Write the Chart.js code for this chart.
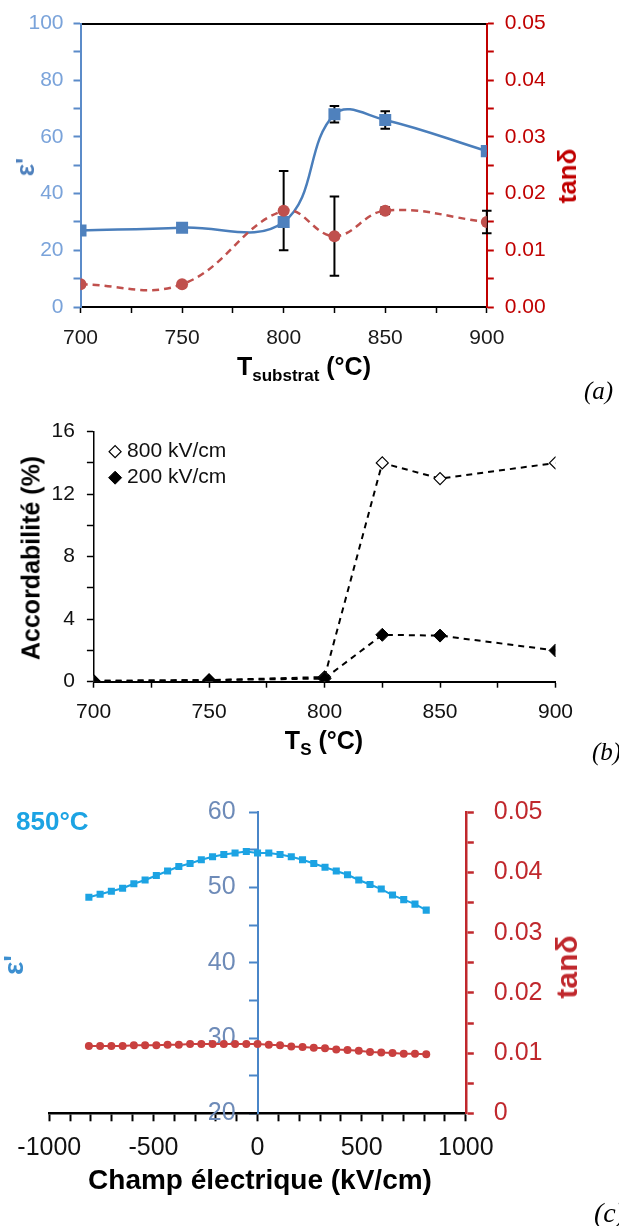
<!DOCTYPE html>
<html>
<head>
<meta charset="utf-8">
<script src="https://cdn.jsdelivr.net/npm/chart.js@4/dist/chart.umd.min.js"></script>
<style>
html, body { margin: 0; padding: 0; background: #fff; overflow: hidden; }
#page { position: relative; width: 619px; height: 1226px; overflow: hidden; font-family: 'Liberation Sans', Arial, sans-serif; }
canvas { position: absolute; left: 0; }
.lbl { position: absolute; white-space: nowrap; font-weight: bold; line-height: 1; }
.rot { transform: translate(-50%, -50%) rotate(-90deg); }
.ctr { transform: translate(-50%, -50%); }
.tag { position: absolute; white-space: nowrap; font-family: 'Liberation Serif', serif; font-style: italic; line-height: 1; }
sub { font-size: 68%; vertical-align: -0.35em; }
</style>
</head>
<body>
<div id="page">
    <canvas id="chartA" width="619" height="390" style="top:0px"></canvas>
    <canvas id="chartB" width="619" height="380" style="top:390px"></canvas>
    <canvas id="chartC" width="619" height="456" style="top:770px"></canvas>

    <!-- (a) -->
    <div class="lbl rot" style="left:25px; top:167px; font-size:26px; color:#4F81BD">ε'</div>
    <div class="lbl rot" style="left:567px; top:176px; font-size:26px; color:#C00000">tanδ</div>
    <div class="lbl ctr" style="left:304px; top:369px; font-size:25px; color:#000">T<sub>substrat</sub> (°C)</div>
    <div class="tag" style="left:584px; top:378px; font-size:25px">(a)</div>

    <!-- (b) -->
    <div class="lbl rot" style="left:31px; top:558px; font-size:25px; color:#000">Accordabilité (%)</div>
    <div class="lbl ctr" style="left:324px; top:743px; font-size:25px; color:#000">T<sub>S</sub> (°C)</div>
    <div class="tag" style="left:592px; top:739px; font-size:25px">(b)</div>

    <!-- (c) -->
    <div class="lbl" style="left:16px; top:808px; font-size:26px; color:#1CA3E3">850°C</div>
    <div class="lbl rot" style="left:14px; top:965px; font-size:28px; color:#3C8FD0">ε'</div>
    <div class="lbl rot" style="left:567px; top:967px; font-size:30px; color:#C0282D">tanδ</div>
    <div class="lbl ctr" style="left:260px; top:1180px; font-size:28px; color:#000">Champ électrique (kV/cm)</div>
    <div class="tag" style="left:594px; top:1199px; font-size:28px">(c)</div>
</div>

<script>
//// Data

// (a) dielectric constant and losses vs substrate temperature
const temps = [700, 750, 800, 825, 850, 900];
const epsA = [27, 28, 30, 68, 66, 55];
const epsErrA = [0, 0, 0, 2.9, 3.1, 0];
const tanA = [0.004, 0.004, 0.017, 0.0125, 0.017, 0.015];
const tanErrA = [0, 0, 0.007, 0.007, 0.0006, 0.002];

// (b) tunability
const tuneLabels = ['800 kV/cm', '200 kV/cm'];
const tune800 = [0.05, 0.1, 0.3, 14, 13, 14];
const tune200 = [0.05, 0.1, 0.2, 3, 2.95, 2];

// (c) eps' and tan(delta) vs electric field at 850°C
const fieldC = [-810, -756, -702, -648, -594, -540, -486, -432, -378, -324, -270, -216, -162, -108, -54,
    0, 54, 108, 162, 216, 270, 324, 378, 432, 486, 540, 594, 648, 702, 756, 810];
const epsC = [48.7, 49.1, 49.5, 49.9, 50.5, 51.0, 51.6, 52.2, 52.8, 53.2, 53.7, 54.1, 54.4, 54.6, 54.8,
    54.6, 54.6, 54.4, 54.1, 53.7, 53.2, 52.7, 52.2, 51.7, 51.0, 50.4, 49.8, 49.0, 48.4, 47.8, 47.0];
const tanC = [0.0112, 0.0112, 0.0112, 0.0112, 0.0113, 0.0113, 0.0113, 0.0114, 0.0114, 0.0115, 0.0115, 0.0115, 0.0115, 0.0115, 0.0115,
    0.0115, 0.0114, 0.0113, 0.0111, 0.0110, 0.0109, 0.0108, 0.0106, 0.0105, 0.0104, 0.0102, 0.0101, 0.0100, 0.0099, 0.0099, 0.0098];

//// Helpers

Chart.defaults.font.family = "'Liberation Sans', Arial, sans-serif";

const fixWidth = w => scale => { scale.width = w; };
const fixHeight = h => scale => { scale.height = h; };
const toPoints = (xs, ys) => xs.map((x, i) => ({x: x, y: ys[i]}));
const everyOther = step => v => (Math.round(v * 1000) % Math.round(step * 1000) === 0 ? v : '');
const lossLabel = zeroText => v => {
    const k = Math.round(v * 1000);
    if (k % 10 !== 0) return '';
    return k === 0 && zeroText ? zeroText : (k / 1000).toFixed(2);
};

// black error bars, drawn under the markers
const errorBars = {
    id: 'errorBars',
    beforeDatasetsDraw(chart, args, opts) {
        const ctx = chart.ctx;
        chart.data.datasets.forEach((ds, i) => {
            if (!ds.errors) return;
            const meta = chart.getDatasetMeta(i);
            const yScale = chart.scales[meta.yAxisID];
            ctx.save();
            ctx.strokeStyle = opts.color;
            ctx.lineWidth = opts.width;
            meta.data.forEach((pt, j) => {
                const err = ds.errors[j];
                if (!err) return;
                const v = ds.data[j].y;
                const top = yScale.getPixelForValue(v + err);
                const bot = yScale.getPixelForValue(v - err);
                ctx.beginPath();
                ctx.moveTo(pt.x, top);
                ctx.lineTo(pt.x, bot);
                ctx.moveTo(pt.x - opts.cap, top);
                ctx.lineTo(pt.x + opts.cap, top);
                ctx.moveTo(pt.x - opts.cap, bot);
                ctx.lineTo(pt.x + opts.cap, bot);
                ctx.stroke();
            });
            ctx.restore();
        });
    }
};

// legend in the upper left corner of the plot
const insideLegend = {
    id: 'insideLegend',
    afterDatasetsDraw(chart, args, opts) {
        if (!opts.display) return;
        const ctx = chart.ctx;
        const {left, top} = chart.chartArea;
        ctx.save();
        chart.data.datasets.forEach((ds, i) => {
            const x = left + opts.offsetX;
            const y = top + opts.offsetY + i * opts.rowHeight;
            ctx.fillStyle = ds.pointBackgroundColor;
            ctx.strokeStyle = ds.pointBorderColor;
            ctx.lineWidth = ds.pointBorderWidth;
            Chart.helpers.drawPoint(ctx, {
                pointStyle: ds.pointStyle,
                radius: ds.pointRadius,
                borderWidth: ds.pointBorderWidth,
                rotation: 0
            }, x, y);
            ctx.fillStyle = opts.color;
            ctx.font = opts.font;
            ctx.textBaseline = 'middle';
            ctx.textAlign = 'left';
            ctx.fillText(ds.label, x + opts.textGap, y);
        });
        ctx.restore();
    }
};

// an axis placed at x = 0 puts its labels on the line: move them out past the ticks
const centerAxisLabels = {
    id: 'centerAxisLabels',
    beforeDraw(chart, args, opts) {
        const scale = chart.scales[opts.axis];
        if (!scale) return;
        const items = scale.getLabelItems(chart.chartArea);
        if (items._moved) return;
        const shift = scale.options.grid.tickLength + scale.options.ticks.padding;
        items.forEach(item => { item.options.translation[0] -= shift; });
        items._moved = true;
    }
};

const baseOptions = {
    responsive: false,
    animation: false,
    devicePixelRatio: 1,
    plugins: {legend: {display: false}, tooltip: {enabled: false}}
};

//// Charts

window.onload = () => {
    // (a)
    new Chart(document.getElementById('chartA'), {
        type: 'line',
        data: {
            datasets: [
                {
                    label: 'tanδ',
                    data: toPoints(temps, tanA),
                    errors: tanErrA,
                    yAxisID: 'y2',
                    borderColor: '#C0504D',
                    backgroundColor: '#C0504D',
                    borderWidth: 2.5,
                    borderDash: [7, 5],
                    tension: 0.4,
                    pointStyle: 'circle',
                    pointRadius: 6,
                    pointBorderWidth: 0,
                    order: 1
                },
                {
                    label: "ε'",
                    data: toPoints(temps, epsA),
                    errors: epsErrA,
                    yAxisID: 'y',
                    borderColor: '#4A7EBB',
                    backgroundColor: '#4F81BD',
                    borderWidth: 2.5,
                    tension: 0.4,
                    pointStyle: 'rect',
                    pointRadius: 8.5,
                    pointBorderWidth: 0,
                    order: 2
                }
            ]
        },
        options: {
            ...baseOptions,
            layout: {padding: {top: 21.7, left: 0, right: 0, bottom: 0}},
            plugins: {...baseOptions.plugins, errorBars: {color: '#000', width: 2, cap: 4.75}},
            scales: {
                x: {
                    type: 'linear', position: 'bottom', min: 700, max: 900,
                    afterFit: fixHeight(83),
                    ticks: {stepSize: 25, autoSkip: false, maxRotation: 0, callback: everyOther(50),
                        font: {size: 21}, color: '#1a1a1a', padding: 13},
                    grid: {drawOnChartArea: false, tickLength: 6, tickColor: '#000', tickWidth: 1.5},
                    border: {color: '#000', width: 2}
                },
                xTop: {
                    type: 'linear', position: 'top', min: 700, max: 900,
                    afterFit: fixHeight(0),
                    ticks: {display: false},
                    grid: {display: false, drawTicks: false},
                    border: {color: '#000', width: 2}
                },
                y: {
                    type: 'linear', position: 'left', min: 0, max: 100,
                    afterFit: fixWidth(80.5),
                    ticks: {stepSize: 10, autoSkip: false, callback: everyOther(20),
                        font: {size: 21}, color: '#7AA3DA', padding: 10},
                    grid: {drawOnChartArea: false, tickLength: 7, tickColor: '#5B8BC9', tickWidth: 2},
                    border: {color: '#5B8BC9', width: 2}
                },
                y2: {
                    type: 'linear', position: 'right', min: 0, max: 0.05,
                    afterFit: fixWidth(132.2),
                    ticks: {stepSize: 0.005, autoSkip: false, callback: lossLabel(null),
                        font: {size: 21}, color: '#C00000', padding: 11},
                    grid: {drawOnChartArea: false, tickLength: 7, tickColor: '#C00000', tickWidth: 2},
                    border: {color: '#C00000', width: 2}
                }
            }
        },
        plugins: [errorBars]
    });

    // (b)
    new Chart(document.getElementById('chartB'), {
        type: 'line',
        data: {
            datasets: [
                {
                    label: tuneLabels[0],
                    data: toPoints(temps, tune800),
                    borderColor: '#000',
                    borderWidth: 2,
                    borderDash: [6, 5],
                    tension: 0,
                    pointStyle: 'rectRot',
                    pointRadius: 6,
                    pointBackgroundColor: '#fff',
                    pointBorderColor: '#000',
                    pointBorderWidth: 1.2,
                    order: 2
                },
                {
                    label: tuneLabels[1],
                    data: toPoints(temps, tune200),
                    borderColor: '#000',
                    borderWidth: 2,
                    borderDash: [6, 5],
                    tension: 0,
                    pointStyle: 'rectRot',
                    pointRadius: 6.5,
                    pointBackgroundColor: '#000',
                    pointBorderColor: '#000',
                    pointBorderWidth: 1,
                    order: 1
                }
            ]
        },
        options: {
            ...baseOptions,
            layout: {padding: {top: 41.7, left: 0, right: 63.5, bottom: 0}},
            plugins: {
                ...baseOptions.plugins,
                insideLegend: {display: true, offsetX: 21.5, offsetY: 20, rowHeight: 26, textGap: 12,
                    font: "21px 'Liberation Sans', Arial, sans-serif", color: '#111'}
            },
            scales: {
                x: {
                    type: 'linear', position: 'bottom', min: 700, max: 900,
                    afterFit: fixHeight(88.3),
                    ticks: {stepSize: 25, autoSkip: false, maxRotation: 0, callback: everyOther(50),
                        font: {size: 21}, color: '#111', padding: 12},
                    grid: {drawOnChartArea: false, tickLength: 6, tickColor: '#000', tickWidth: 1.5},
                    border: {color: '#000', width: 2}
                },
                y: {
                    type: 'linear', position: 'left', min: 0, max: 16,
                    afterFit: fixWidth(93.6),
                    ticks: {stepSize: 2, autoSkip: false, callback: everyOther(4),
                        font: {size: 21}, color: '#111', padding: 12},
                    grid: {drawOnChartArea: false, tickLength: 6.7, tickColor: '#000', tickWidth: 1.5},
                    border: {color: '#000', width: 1.5}
                }
            }
        },
        plugins: [insideLegend]
    });

    // (c)
    new Chart(document.getElementById('chartC'), {
        type: 'line',
        data: {
            datasets: [
                {
                    label: "ε'",
                    data: toPoints(fieldC, epsC),
                    yAxisID: 'y',
                    borderColor: '#1CA3E3',
                    backgroundColor: '#1CA3E3',
                    borderWidth: 2,
                    tension: 0,
                    pointStyle: 'rect',
                    pointRadius: 5,
                    pointBorderWidth: 0
                },
                {
                    label: 'tanδ',
                    data: toPoints(fieldC, tanC),
                    yAxisID: 'y2',
                    borderColor: '#C9403F',
                    backgroundColor: '#C9403F',
                    borderWidth: 2,
                    tension: 0,
                    pointStyle: 'circle',
                    pointRadius: 4,
                    pointBorderWidth: 0
                }
            ]
        },
        options: {
            ...baseOptions,
            layout: {padding: {top: 42.3, left: 49.3, right: 0, bottom: 0}},
            plugins: {...baseOptions.plugins, centerAxisLabels: {axis: 'y'}},
            scales: {
                x: {
                    type: 'linear', position: 'bottom', min: -1000, max: 1000,
                    afterFit: fixHeight(112.7),
                    ticks: {stepSize: 100, autoSkip: false, maxRotation: 0, callback: everyOther(500),
                        font: {size: 25}, color: '#111', padding: 12},
                    grid: {drawOnChartArea: false, tickLength: 8, tickColor: '#000', tickWidth: 2},
                    border: {color: '#000', width: 2.5}
                },
                y: {
                    type: 'linear', position: {x: 0}, min: 20, max: 60,
                    ticks: {stepSize: 5, autoSkip: false, callback: everyOther(10),
                        font: {size: 25}, color: '#6E8BB8', padding: 14},
                    grid: {drawOnChartArea: false, tickLength: 8, tickColor: '#4A86C8', tickWidth: 2},
                    border: {color: '#4A86C8', width: 2}
                },
                y2: {
                    type: 'linear', position: 'right', min: 0, max: 0.05,
                    afterFit: fixWidth(153.2),
                    ticks: {stepSize: 0.005, autoSkip: false, callback: lossLabel('0'),
                        font: {size: 25}, color: '#C0282D', padding: 20},
                    grid: {drawOnChartArea: false, tickLength: 8, tickColor: '#C0282D', tickWidth: 2.5},
                    border: {color: '#C0282D', width: 2.5}
                }
            }
        },
        plugins: [centerAxisLabels]
    });
};
</script>
</body>
</html>
